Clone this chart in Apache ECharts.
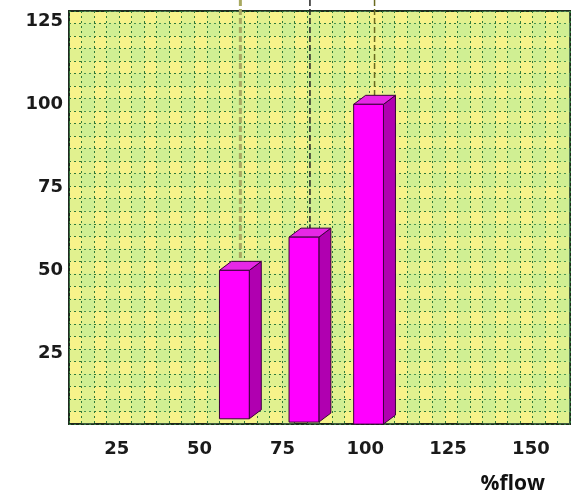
<!DOCTYPE html>
<html>
<head>
<meta charset="utf-8">
<script src="https://cdn.jsdelivr.net/npm/echarts@6/dist/echarts.min.js"></script>
<style>html,body{margin:0;padding:0;background:#fff}#c{width:572px;height:495px}</style>
</head>
<body>
<div id="c"></div>
<script>
// ---- data ----
const xTickLabels = [25, 50, 75, 100, 125, 150];
const yTickLabels = [25, 50, 75, 100, 125];
const flowPct = [60.5, 81.5, 101];
const barValues = [50, 60, 100];
const barBases = [5.3, 4.3, 3.7];
const dashColors = ['#a8a860', '#222222', '#6a6a20'];
const dashWidths = [3, 1.5, 1.5];

const barData = flowPct.map((x, i) => [x, barValues[i], barBases[i], i]);

const chart = echarts.init(document.getElementById('c'), null, {renderer: 'canvas'});

function renderItem(params, api) {
  const x = api.value(0), v = api.value(1), b = api.value(2), idx = api.value(3);
  const halfW = 4.5;
  const pL = api.coord([x - halfW, v]);
  const pR = api.coord([x + halfW, v]);
  const pB = api.coord([x, b]);
  const dx = 12, dy = 9;
  const top = pL[1], bot = pB[1], l = pL[0], r = pR[0];
  const cs = params.coordSys;
  const stroke = '#3a003a';
  return {
    type: 'group',
    children: [
      {
        type: 'line',
        shape: {x1: (l + r + dx) / 2, y1: cs.y - 11, x2: (l + r + dx) / 2, y2: top - dy},
        style: {stroke: dashColors[idx], lineWidth: dashWidths[idx], lineDash: [6, 3]}
      },
      {
        type: 'polygon',
        shape: {points: [[r, top], [r + dx, top - dy], [r + dx, bot - dy], [r, bot]]},
        style: {fill: '#b000b0', stroke: stroke, lineWidth: 1}
      },
      {
        type: 'polygon',
        shape: {points: [[l, top], [l + dx, top - dy], [r + dx, top - dy], [r, top]]},
        style: {fill: '#e628e6', stroke: stroke, lineWidth: 1}
      },
      {
        type: 'rect',
        shape: {x: l, y: top, width: r - l, height: bot - top},
        style: {fill: '#ff00ff', stroke: stroke, lineWidth: 1}
      }
    ]
  };
}

const labelFont = {fontFamily: 'DejaVu Sans', fontWeight: 'bold', fontSize: 18, color: '#1a1a1a'};

chart.setOption({
  animation: false,
  backgroundColor: '#ffffff',
  grid: {
    left: 69, right: 2, top: 11, bottom: 71,
    outerBoundsMode: 'none', containLabel: false,
    show: true, backgroundColor: '#f7f38a', borderColor: '#1e2a1e', borderWidth: 2
  },
  xAxis: [
    {
      type: 'value', min: 10.59, max: 161.8,
      axisLine: {show: false}, axisTick: {show: false}, splitLine: {show: false},
      axisLabel: Object.assign({customValues: xTickLabels, margin: 16}, labelFont),
      name: '%flow', nameLocation: 'end',
      nameTextStyle: {fontFamily: 'Open Sans', fontWeight: 'bold', fontSize: 21, color: '#111', padding: [50, 0, 0, 0], align: 'right', verticalAlign: 'top'},
      nameGap: -25
    },
    {
      type: 'value', min: 0, max: 40, interval: 1, show: true, position: 'top',
      axisLine: {show: false}, axisTick: {show: false}, axisLabel: {show: false},
      splitLine: {show: true, lineStyle: {color: '#2f7a3a', width: 1, type: [2, 3]}},
      splitArea: {show: true, areaStyle: {color: ['rgba(160,235,160,0.0)', 'rgba(160,235,160,0.25)']}}
    }
  ],
  yAxis: [
    {
      type: 'value', min: 3.73, max: 128.1,
      axisLine: {show: false}, axisTick: {show: false}, splitLine: {show: false},
      axisLabel: Object.assign({customValues: yTickLabels, margin: 6}, labelFont)
    },
    {
      type: 'value', min: 0, max: 33, interval: 1, show: true, position: 'right',
      axisLine: {show: false}, axisTick: {show: false}, axisLabel: {show: false},
      splitLine: {show: true, lineStyle: {color: '#2f7a3a', width: 1, type: [2, 3]}},
      splitArea: {show: true, areaStyle: {color: ['rgba(160,235,160,0.0)', 'rgba(160,235,160,0.25)']}}
    }
  ],
  series: [
    {
      type: 'custom', xAxisIndex: 0, yAxisIndex: 0,
      renderItem: renderItem,
      data: barData,
      encode: {x: 0, y: 1},
      clip: false
    }
  ]
});
</script>
</body>
</html>
